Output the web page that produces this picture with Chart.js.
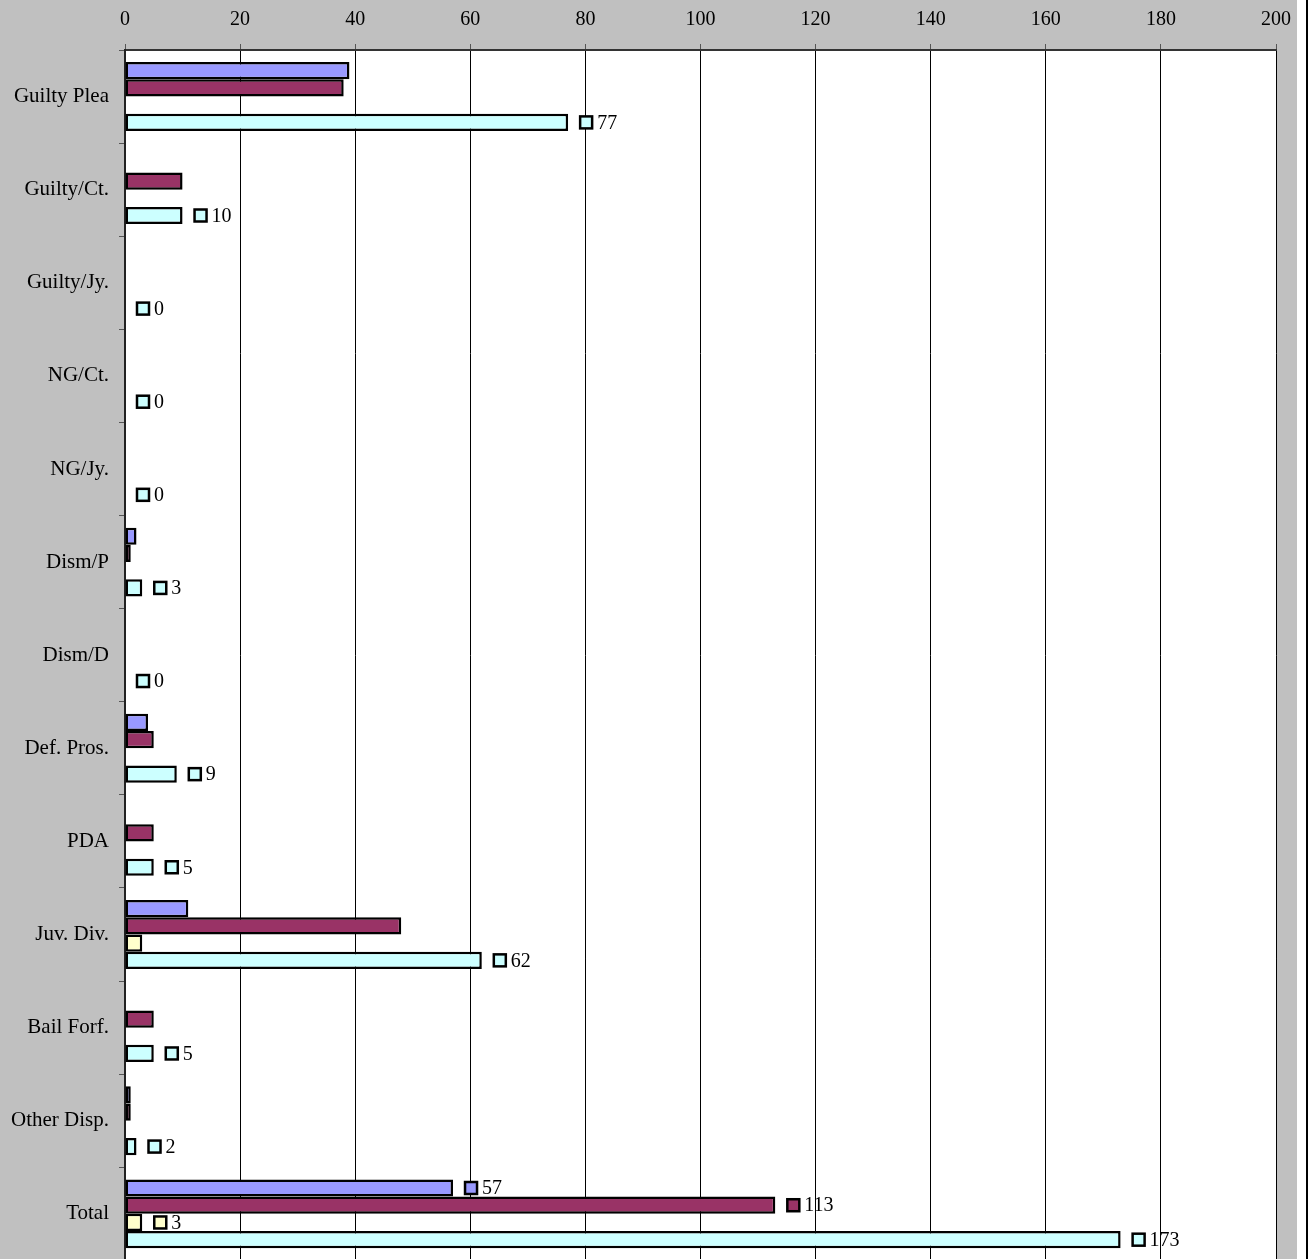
<!DOCTYPE html>
<html><head><meta charset="utf-8">
<script src="https://cdn.jsdelivr.net/npm/chart.js@4/dist/chart.umd.min.js"></script>
<style>
html,body{margin:0;padding:0;background:#fff;}
#wrap{position:absolute;left:0;top:0;width:1297px;height:1259px;background:#C0C0C0;overflow:hidden;}
#edge{position:absolute;left:1306px;top:0;width:2px;height:1259px;background:#000;}
canvas{display:block;}
</style></head><body>
<div id="wrap"><canvas id="c" width="1303" height="1283"></canvas></div>
<div id="edge"></div>
<script>
const categories = ["Guilty Plea","Guilty/Ct.","Guilty/Jy.","NG/Ct.","NG/Jy.","Dism/P","Dism/D","Def. Pros.","PDA","Juv. Div.","Bail Forf.","Other Disp.","Total"];
const series1 = [39,0,0,0,0,2,0,4,0,11,0,1,57];
const series2 = [38,10,0,0,0,1,0,5,5,48,5,1,113];
const series3 = [0,0,0,0,0,0,0,0,0,3,0,0,3];
const series4 = [77,10,0,0,0,3,0,9,5,62,5,2,173];
const xTicks = [0,20,40,60,80,100,120,140,160,180,200];
const colors = ["#9999FF","#993366","#FFFFCC","#CCFFFF"];
const FONT = "'Liberation Serif','Times New Roman',serif";

const bgPlugin = {
  id:'bg',
  beforeDraw(chart){
    const {ctx, chartArea:a} = chart;
    ctx.save(); ctx.fillStyle='#fff';
    ctx.fillRect(a.left, a.top, a.right-a.left, a.bottom-a.top);
    ctx.restore();
  }
};
const labelPlugin = {
  id:'lbl',
  afterDatasetsDraw(chart){
    const ctx = chart.ctx;
    const lastIdx = categories.length-1;
    chart.data.datasets.forEach((ds, di) => {
      const meta = chart.getDatasetMeta(di);
      meta.data.forEach((bar, i) => {
        const show = di === 3 || (i === lastIdx && ds.data[i] !== 0);
        if (!show) return;
        const xEnd = bar.x, y = bar.y;
        ctx.save();
        ctx.fillStyle = colors[di];
        ctx.fillRect(xEnd+12, y-6, 12, 12);
        ctx.lineWidth = 2.5; ctx.strokeStyle = '#000';
        ctx.strokeRect(xEnd+12, y-6, 12, 12);
        ctx.fillStyle = '#000';
        ctx.font = '20px ' + FONT;
        ctx.textAlign = 'left'; ctx.textBaseline = 'middle';
        ctx.fillText(String(ds.data[i]), xEnd+29, y+1);
        ctx.restore();
      });
    });
  }
};

const datasets = [series1,series2,series3,series4].map((d,i)=>({
  label: 'S'+(i+1),
  data: d,
  backgroundColor: colors[i],
  borderColor: '#000',
  borderWidth: c => (c.raw === 0 ? 0 : 2.5),
  borderSkipped: false,
  categoryPercentage: 0.74,
  barPercentage: 1.0
}));

new Chart(document.getElementById('c'), {
  type:'bar',
  data:{labels:categories, datasets},
  options:{
    indexAxis:'y',
    responsive:false,
    animation:false,
    layout:{padding:{left:0,right:16,top:0,bottom:0}},
    plugins:{legend:{display:false}, tooltip:{enabled:false}},
    scales:{
      x:{
        position:'top', min:0, max:200,
        afterBuildTicks: s => { s.ticks = xTicks.map(v=>({value:v})); },
        afterFit: s => { s.height = 50; },
        grid:{color:'#000', lineWidth:1, tickLength:6, tickColor:'#555', drawTicks:true},
        border:{color:'#333', width:2},
        ticks:{color:'#000', font:{family:FONT, size:20}, padding:12, maxRotation:0}
      },
      y:{
        afterFit: s => { s.width = 125; },
        grid:{offset:true, drawOnChartArea:false, tickLength:6, tickColor:'#555'},
        border:{color:'#222', width:2},
        ticks:{color:'#000', font:{family:FONT, size:21}, padding:10}
      }
    }
  },
  plugins:[bgPlugin, labelPlugin]
});
</script>
</body></html>
